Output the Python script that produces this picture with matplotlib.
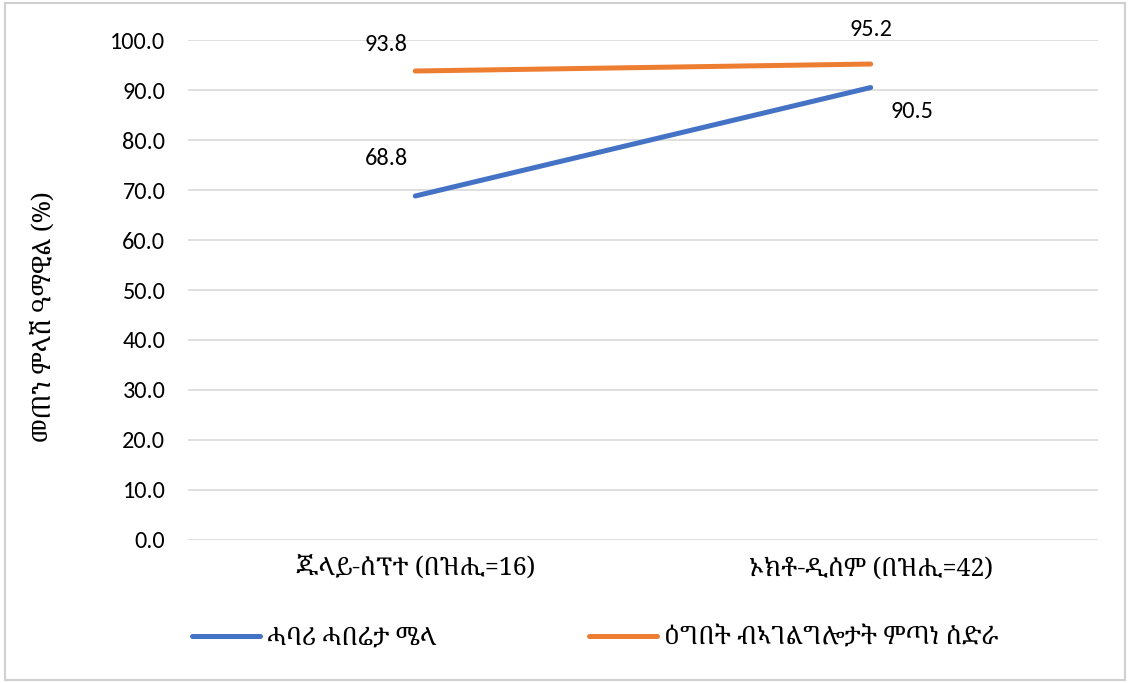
import matplotlib
matplotlib.use("Agg")
from matplotlib import pyplot as plt
from matplotlib.patches import Rectangle

plt.rcParams['font.family'] = ['Carlito', 'Lato', 'Noto Serif Ethiopic', 'DejaVu Sans']
eth = ['Noto Serif Ethiopic', 'Abyssinica SIL', 'DejaVu Sans']

# data
periods = ['ጁላይ-ሰፕተ (በዝሒ=16)', 'ኦክቶ-ዲሰም (በዝሒ=42)']
series_names = ['ሓባሪ ሓበሬታ ሜላ', 'ዕግበት ብኣገልግሎታት ምጣነ ስድራ']
blue_vals = [68.8, 90.5]
orange_vals = [93.8, 95.2]
y_label = 'መጠን ምላሽ ዓማዊል (%)'

fig = plt.figure(figsize=(11.3, 6.83), dpi=100)
ax = fig.add_axes([0.166, 0.2094, 0.806, 0.732])

x = list(range(len(periods)))
l1, = ax.plot(x, blue_vals, color='#4472C4', lw=3.6, solid_capstyle='round', zorder=3)
l2, = ax.plot(x, orange_vals, color='#ED7D31', lw=3.6, solid_capstyle='round', zorder=3)

# data labels
num_fs = 17.5
ax.annotate(f'{blue_vals[0]:.1f}', (x[0], blue_vals[0]), xytext=(-21, 27),
            textcoords='offset points', ha='center', va='center', fontsize=num_fs)
ax.annotate(f'{blue_vals[1]:.1f}', (x[1], blue_vals[1]), xytext=(30, -17),
            textcoords='offset points', ha='center', va='center', fontsize=num_fs)
ax.annotate(f'{orange_vals[0]:.1f}', (x[0], orange_vals[0]), xytext=(-21, 19),
            textcoords='offset points', ha='center', va='center', fontsize=num_fs)
ax.annotate(f'{orange_vals[1]:.1f}', (x[1], orange_vals[1]), xytext=(0, 25),
            textcoords='offset points', ha='center', va='center', fontsize=num_fs)

ax.set_xlim(-0.5, 1.5)
ax.set_ylim(0, 100)
ax.set_yticks(range(0, 101, 10))
ax.set_yticklabels([f'{v:.1f}' for v in range(0, 101, 10)], fontsize=num_fs)
ax.set_xticks(x)
ax.set_xticklabels(periods, fontsize=18, family=eth)
ax.tick_params(axis='both', length=0)
ax.tick_params(axis='y', pad=16)
ax.tick_params(axis='x', pad=12)
ax.grid(axis='y', color='#D9D9D9', lw=1.2)
ax.set_axisbelow(True)
for s in ax.spines.values():
    s.set_visible(False)
ax.set_ylabel(y_label, fontsize=18, family=eth, va='center')
ax.yaxis.set_label_coords(-0.157, 0.446)

fig.legend([l1, l2], series_names, loc='center', bbox_to_anchor=(0.527, 0.066),
           ncol=2, frameon=False, prop={'family': eth, 'size': 18}, handlelength=2.7,
           handletextpad=0.3, columnspacing=6.1)

fig.patches.append(Rectangle((0.004, 0.004), 0.992, 0.992, transform=fig.transFigure,
                             fill=False, edgecolor='#D0D0D0', lw=1.5))

fig.savefig('out.png', dpi=100)
